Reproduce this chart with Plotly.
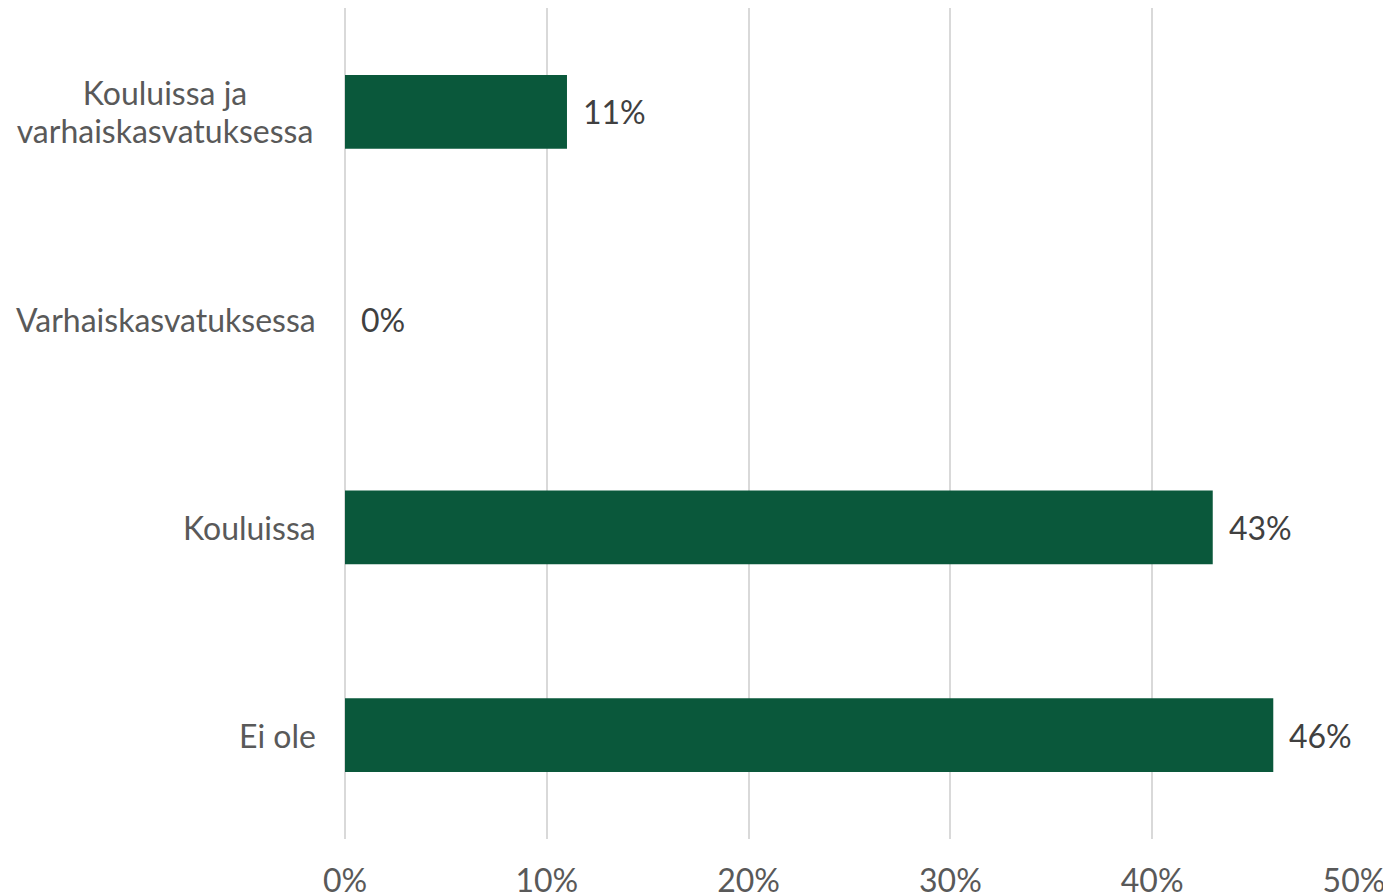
import plotly.graph_objects as go

categories = ["Kouluissa ja<br>varhaiskasvatuksessa", "Varhaiskasvatuksessa", "Kouluissa", "Ei ole"]
values = [11, 0, 43, 46]
tick_vals = [0, 10, 20, 30, 40, 50]
tick_text = ["0%", "10%", "20%", "30%", "40%", "50%"]

FONT = "Lato"
FS = 32

fig = go.Figure()
fig.add_trace(go.Bar(
    y=categories, x=values, orientation="h",
    marker=dict(color="#0A583B", line=dict(width=0)),
    width=0.356, hoverinfo="skip",
))

annotations = []
for c, v in zip(categories, values):
    annotations.append(dict(x=v, y=c, xref="x", yref="y", text=f"{v}%", showarrow=False,
                            xanchor="left", xshift=14,
                            font=dict(family=FONT, size=FS, color="#404040")))
    lines = c.split("<br>")
    n = len(lines)
    if n == 1:
        annotations.append(dict(x=0, y=c, xref="paper", yref="y", text=c, showarrow=False,
                                xanchor="right", xshift=-27,
                                font=dict(family=FONT, size=FS, color="#595959")))
    else:
        for i, ln in enumerate(lines):
            annotations.append(dict(x=0, y=c, xref="paper", yref="y", text=ln, showarrow=False,
                                    xanchor="right", xshift=-8, width=340, align="center",
                                    yshift=(n - 1) * 19 - i * 38,
                                    font=dict(family=FONT, size=FS, color="#595959")))

fig.update_layout(
    width=1383, height=886,
    margin=dict(l=337, r=37, t=0, b=55),
    paper_bgcolor="white", plot_bgcolor="white",
    showlegend=False,
    annotations=annotations,
    xaxis=dict(range=[0, 50], tickvals=tick_vals, ticktext=tick_text, automargin=False,
               showgrid=True, gridcolor="#D9D9D9", gridwidth=2,
               zeroline=True, zerolinecolor="#D9D9D9", zerolinewidth=2, showline=False,
               ticks="outside", ticklen=14, tickcolor="rgba(0,0,0,0)",
               tickfont=dict(family=FONT, size=FS, color="#595959")),
    yaxis=dict(categoryorder="array", categoryarray=categories[::-1], automargin=False,
               showticklabels=False, showgrid=False, zeroline=False, showline=False,
               range=[-0.5, 3.5]),
)

fig.write_html("out.html")
